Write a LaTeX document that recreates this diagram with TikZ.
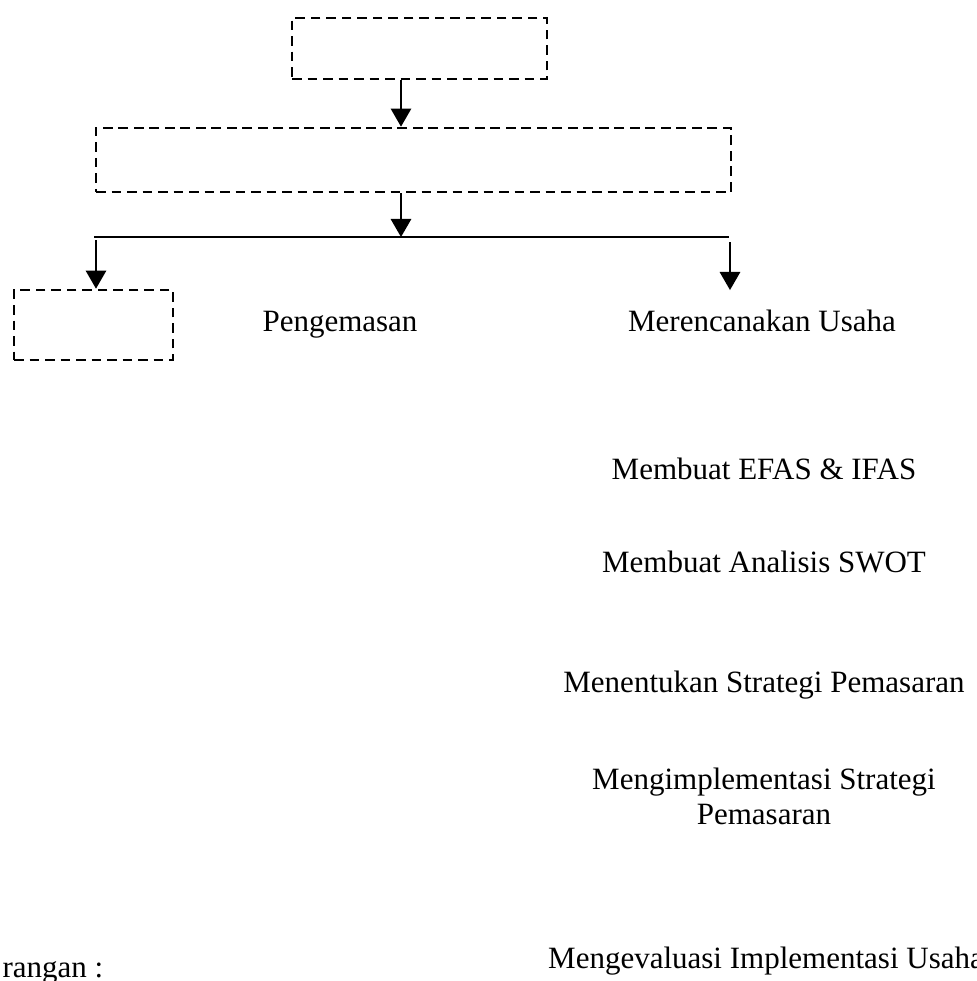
\documentclass[tikz,border=0pt,12pt]{standalone}
\usepackage{fontspec}
\setmainfont{Liberation Serif}
\usetikzlibrary{arrows}

\begin{document}
\begin{tikzpicture}[x=0.3871pt,y=-0.3871pt,>=triangle 60,
    kotak/.style={draw=black,dash pattern=on 3.7pt off 2.3pt,line width=1.05pt,inner sep=0pt},
    teks/.style={inner sep=0pt,anchor=base},
    panah/.style={->,line width=0.9pt}]
    \useasboundingbox (0,0) rectangle (977,981);
    \node[kotak,minimum width=98.7pt,minimum height=23.6pt] (atas) at (419.5,48.5) {};
    \node[kotak,minimum width=245.8pt,minimum height=24.8pt] (tengah) at (413.5,160) {};
    \node[kotak,minimum width=61.5pt,minimum height=27.1pt] (kiri) at (93.5,325) {};
    \coordinate (sumbu) at (401,0);
    \coordinate (cabkiri) at (94,237);
    \coordinate (cabkanan) at (729,237);
    \coordinate (turunkiri) at (96,240);
    \coordinate (turunkanan) at (730,242);
    \coordinate (ujungkanan) at (730,290);
    \node[teks] (kemas) at (340,331) {Pengemasan};
    \node[teks] (rencana) at (762,331) {Merencanakan Usaha};
    \node[teks] (efas) at (764,479) {Membuat EFAS \& IFAS};
    \node[teks] (swot) at (764,572) {Membuat Analisis SWOT};
    \node[teks] (strategi) at (764,692) {Menentukan Strategi Pemasaran};
    \node[teks,align=center] (implementasi) at (764,824) {Mengimplementasi Strategi\\[-1pt]Pemasaran};
    \node[teks] (evaluasi) at (766,968) {Mengevaluasi Implementasi Usaha};
    \node[teks,anchor=base west] (ket) at (2,977) {rangan :};
    \draw[panah] (atas.south -| sumbu) -- (tengah.north -| sumbu);
    \draw[panah] (tengah.south -| sumbu) -- (cabkiri -| sumbu);
    \draw[line width=1.15pt] (cabkiri) -- (cabkanan);
    \draw[panah] (turunkiri) -- (kiri.north -| turunkiri);
    \draw[panah] (turunkanan) -- (ujungkanan);
\end{tikzpicture}
\end{document}
